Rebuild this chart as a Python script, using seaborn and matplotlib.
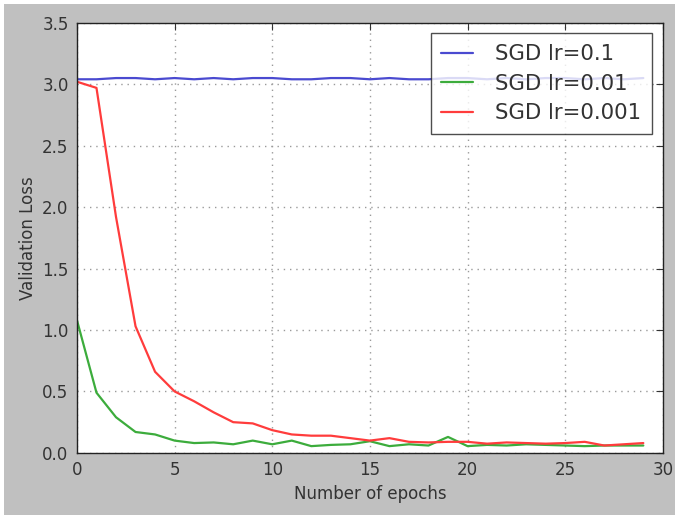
import numpy as np
import pandas as pd
import seaborn as sns
import matplotlib
matplotlib.use("Agg")
import matplotlib.pyplot as plt
from matplotlib.patches import Rectangle

epochs = list(range(30))
lr_01 = [3.04, 3.04, 3.05, 3.05, 3.04, 3.05, 3.04, 3.05, 3.04, 3.05,
         3.05, 3.04, 3.04, 3.05, 3.05, 3.04, 3.05, 3.04, 3.04, 3.05,
         3.05, 3.04, 3.05, 3.04, 3.05, 3.05, 3.04, 3.05, 3.04, 3.05]
lr_001 = [1.08, 0.49, 0.29, 0.17, 0.15, 0.10, 0.08, 0.085, 0.07, 0.10,
          0.07, 0.10, 0.055, 0.065, 0.07, 0.095, 0.055, 0.07, 0.06, 0.13,
          0.055, 0.065, 0.06, 0.07, 0.065, 0.06, 0.055, 0.06, 0.06, 0.06]
lr_0001 = [3.02, 2.97, 1.92, 1.03, 0.66, 0.50, 0.42, 0.33, 0.25, 0.24,
           0.185, 0.15, 0.14, 0.14, 0.12, 0.10, 0.12, 0.09, 0.085, 0.09,
           0.09, 0.075, 0.085, 0.08, 0.075, 0.08, 0.09, 0.06, 0.07, 0.08]
labels = ["SGD lr=0.1", "SGD lr=0.01", "SGD lr=0.001"]
colors = ["#4a4ad0", "#3cac3c", "#ff3c3c"]

df = pd.DataFrame({
    "epoch": epochs * 3,
    "loss": lr_01 + lr_001 + lr_0001,
    "series": [labels[0]] * 30 + [labels[1]] * 30 + [labels[2]] * 30,
})

sns.set_style("white")
plt.rcParams["font.family"] = ["DejaVu Sans"]
text_color = "#333333"

fig = plt.figure(figsize=(6.75, 5.17), dpi=100, facecolor="white")
fig.patches.append(Rectangle((4 / 675, 2 / 517), 1 - 4 / 675, 1 - 6 / 517,
                             transform=fig.transFigure, facecolor="#c0c0c0",
                             edgecolor="none", zorder=-10))
ax = fig.add_axes([0.114, 0.124, 0.868, 0.832])
ax.set_facecolor("white")

sns.lineplot(data=df, x="epoch", y="loss", hue="series", palette=colors,
             hue_order=labels, ax=ax, linewidth=1.6, legend=True)

ax.set_xlim(0, 30)
ax.set_ylim(0, 3.5)
ax.set_xticks(range(0, 31, 5))
ax.set_yticks(np.arange(0, 3.51, 0.5))
ax.set_yticklabels([f"{v:.1f}" for v in np.arange(0, 3.51, 0.5)])
ax.grid(True, linestyle=(0, (1, 3.5)), color="#9a9a9a", linewidth=1.0)
ax.tick_params(direction="in", length=5, width=0.8, top=True, right=True,
               labelsize=12, labelcolor=text_color, color="#333333", pad=6)
for s in ax.spines.values():
    s.set_color("#222222")
    s.set_linewidth(1.0)
ax.set_xlabel("Number of epochs", fontsize=12, color=text_color)
ax.set_ylabel("Validation Loss", fontsize=12, color=text_color)

leg = ax.legend(loc="upper right", fontsize=15.3, frameon=True, fancybox=False,
                edgecolor="#222222", handlelength=1.5, borderpad=0.5,
                labelspacing=0.45, handletextpad=1.05, borderaxespad=0.5)
leg.get_frame().set_linewidth(1.0)
for t in leg.get_texts():
    t.set_color(text_color)

fig.savefig("out.png", dpi=100, facecolor=fig.get_facecolor())
